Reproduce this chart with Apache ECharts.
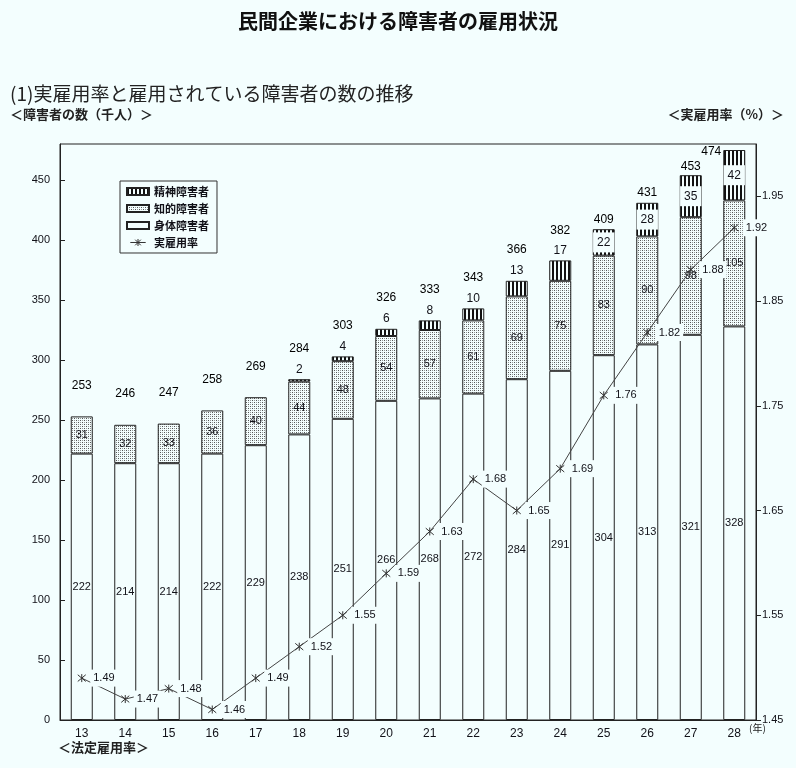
<!DOCTYPE html>
<html>
<head>
<meta charset="utf-8">
<script src="https://cdn.jsdelivr.net/npm/echarts@6/dist/echarts.min.js"></script>
<style>
  html, body { margin: 0; padding: 0; background: #f3fefe; }
  #chart { width: 796px; height: 768px; }
</style>
</head>
<body>
<div id="chart"></div>
<script>
// 年（平成）
var years = ['13', '14', '15', '16', '17', '18', '19', '20', '21', '22', '23', '24', '25', '26', '27', '28'];
// 身体障害者（千人）
var shintai = [222, 214, 214, 222, 229, 238, 251, 266, 268, 272, 284, 291, 304, 313, 321, 328];
// 知的障害者（千人）
var chiteki = [31, 32, 33, 36, 40, 44, 48, 54, 57, 61, 69, 75, 83, 90, 98, 105];
// 精神障害者（千人）
var seishin = [null, null, null, null, null, 2, 4, 6, 8, 10, 13, 17, 22, 28, 35, 42];
// 合計（千人）
var totals = [253, 246, 247, 258, 269, 284, 303, 326, 333, 343, 366, 382, 409, 431, 453, 474];
// 実雇用率（%）
var rate = [1.49, 1.47, 1.48, 1.46, 1.49, 1.52, 1.55, 1.59, 1.63, 1.68, 1.65, 1.69, 1.76, 1.82, 1.88, 1.92];
// 目盛
var leftTicks = [0, 50, 100, 150, 200, 250, 300, 350, 400, 450];
var rightTicks = [1.45, 1.55, 1.65, 1.75, 1.85, 1.95];

var bg = '#f3fefe';
var ink = '#111118';
var font = '"Liberation Sans", "Noto Sans CJK JP", sans-serif';
var jpFont = '"Noto Sans CJK JP", sans-serif';
var starPath = 'path://M0,0L10,10M10,0L0,10M5,-1L5,11';

// 縦縞パターン（精神）
function stripePattern() {
    var c = document.createElement('canvas');
    c.width = 4; c.height = 4;
    var ctx = c.getContext('2d');
    ctx.fillStyle = bg;
    ctx.fillRect(0, 0, 4, 4);
    ctx.fillStyle = '#111';
    ctx.fillRect(0, 0, 2, 4);
    return c;
}
// 点描パターン（知的）
function dotPattern() {
    var c = document.createElement('canvas');
    c.width = 4; c.height = 4;
    var ctx = c.getContext('2d');
    ctx.fillStyle = bg;
    ctx.fillRect(0, 0, 4, 4);
    ctx.fillStyle = '#555';
    ctx.fillRect(0, 0, 1, 1);
    ctx.fillRect(2, 2, 1, 1);
    ctx.fillStyle = '#999';
    ctx.fillRect(2, 0, 1, 1);
    ctx.fillRect(0, 2, 1, 1);
    return c;
}

var chart = echarts.init(document.getElementById('chart'));

// 合計ラベル（精神の値に応じて位置を変える）
var totalData = totals.map(function (v, i) {
    var s = seishin[i];
    var item = {value: v, label: {distance: (s !== null && s >= 20) ? 4 : 25}};
    if (i === totals.length - 1) {
        item.label = {position: 'left', distance: 13};
    }
    return item;
});

var labelBase = {fontFamily: font, fontSize: 11, color: ink};

var option = {
    backgroundColor: bg,
    textStyle: {fontFamily: font},
    title: [
        {
            text: '民間企業における障害者の雇用状況',
            left: 'center',
            top: 6,
            textStyle: {fontFamily: jpFont, fontSize: 20, fontWeight: 'bold', color: '#111'}
        }
    ],
    graphic: [
        {type: 'text', left: 10, top: 84, style: {text: '(1)実雇用率と雇用されている障害者の数の推移', font: '19px ' + jpFont, fill: '#222'}},
        {type: 'text', left: 10, top: 108, style: {text: '＜障害者の数（千人）＞', font: 'bold 13px ' + jpFont, fill: '#222'}},
        {type: 'text', right: 12, top: 108, style: {text: '＜実雇用率（%）＞', font: 'bold 13px ' + jpFont, fill: '#222'}},
        {type: 'text', left: 749, top: 723, style: {text: '(年)', font: '10px ' + jpFont, fill: '#222'}},
        {type: 'text', left: 58, top: 741, style: {text: '＜法定雇用率＞', font: 'bold 13px ' + jpFont, fill: '#222'}}
    ],
    legend: {
        orient: 'vertical',
        left: 120,
        top: 181,
        data: [
            {name: '精神障害者', icon: 'rect'},
            {name: '知的障害者', icon: 'rect'},
            {name: '身体障害者', icon: 'rect'},
            {
                name: '実雇用率',
                icon: 'path://M0,5L22,5M7,1L15,9M15,1L7,9M11,0L11,10',
                itemStyle: {color: 'transparent', borderColor: '#333', borderWidth: 1}
            }
        ],
        itemWidth: 22,
        itemHeight: 7,
        itemGap: 6,
        padding: [5, 8, 5, 6],
        borderColor: '#333',
        borderWidth: 1,
        backgroundColor: bg,
        textStyle: {fontFamily: jpFont, fontSize: 11, fontWeight: 'bold', color: ink}
    },
    grid: {
        left: 60,
        right: 40,
        top: 144,
        bottom: 48,
        show: true,
        borderColor: '#222',
        borderWidth: 1,
        backgroundColor: 'transparent'
    },
    xAxis: {
        type: 'category',
        data: years,
        axisLine: {lineStyle: {color: '#222', width: 1}},
        axisTick: {inside: true, length: 5, lineStyle: {color: '#222'}},
        axisLabel: {fontFamily: font, fontSize: 12, color: ink, margin: 8}
    },
    yAxis: [
        {
            type: 'value',
            min: 0,
            max: 480,
            position: 'left',
            splitLine: {show: false},
            axisLine: {show: true, lineStyle: {color: '#222'}},
            axisTick: {show: true, inside: true, length: 5, customValues: leftTicks, lineStyle: {color: '#222'}},
            axisLabel: {fontFamily: font, fontSize: 11, color: ink, margin: 10, customValues: leftTicks}
        },
        {
            type: 'value',
            min: 1.45,
            max: 2.0,
            position: 'right',
            splitLine: {show: false},
            axisLine: {show: true, lineStyle: {color: '#222'}},
            axisTick: {show: true, inside: false, length: 5, customValues: rightTicks, lineStyle: {color: '#222'}},
            axisLabel: {
                fontFamily: font, fontSize: 11, color: ink, margin: 6, customValues: rightTicks,
                formatter: function (v) { return v.toFixed(2); }
            }
        }
    ],
    series: [
        {
            name: '身体障害者',
            type: 'bar',
            stack: 'total',
            barWidth: 22,
            data: shintai,
            itemStyle: {color: bg, borderColor: '#222', borderWidth: 1},
            label: Object.assign({show: true, position: 'inside'}, labelBase)
        },
        {
            name: '知的障害者',
            type: 'bar',
            stack: 'total',
            barWidth: 22,
            data: chiteki,
            itemStyle: {color: {image: dotPattern(), repeat: 'repeat'}, borderColor: '#222', borderWidth: 1},
            label: Object.assign({show: true, position: 'inside'}, labelBase)
        },
        {
            name: '精神障害者',
            type: 'bar',
            stack: 'total',
            barWidth: 22,
            data: seishin.map(function (v) {
                if (v === null) return null;
                if (v < 20) {
                    return {value: v, label: {position: 'top', distance: 4}};
                }
                return {value: v, label: {position: 'inside', backgroundColor: bg, padding: [4, 4]}};
            }),
            itemStyle: {color: {image: stripePattern(), repeat: 'repeat'}, borderColor: '#222', borderWidth: 1},
            label: Object.assign({show: true}, labelBase, {fontSize: 12})
        },
        {
            name: '合計',
            type: 'scatter',
            symbolSize: 0,
            data: totalData,
            silent: true,
            itemStyle: {opacity: 1},
            label: Object.assign({show: true, position: 'top'}, labelBase, {fontSize: 12, color: '#000'})
        },
        {
            name: '実雇用率',
            type: 'line',
            yAxisIndex: 1,
            data: rate,
            symbol: starPath,
            symbolSize: 8,
            itemStyle: {color: '#333', borderColor: '#333', borderWidth: 1},
            lineStyle: {color: '#444', width: 1},
            label: Object.assign({
                show: true,
                position: 'right',
                distance: 4,
                backgroundColor: bg,
                padding: [3, 3],
                formatter: function (p) { return p.value.toFixed(2); }
            }, labelBase),
            z: 5
        }
    ]
};

chart.setOption(option);
</script>
</body>
</html>
